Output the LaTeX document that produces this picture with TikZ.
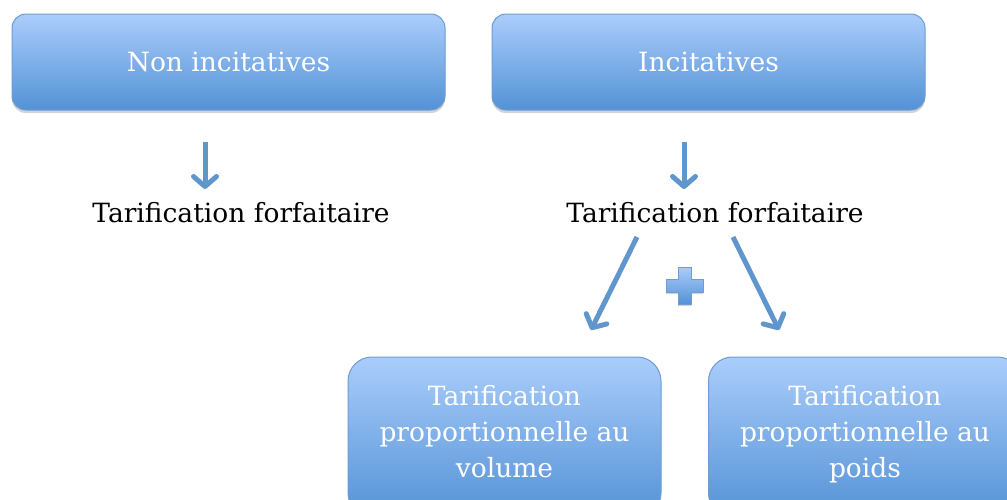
\documentclass[tikz,border=0pt]{standalone}
\usepackage{fontspec}
\setmainfont{DejaVu Serif}
\usetikzlibrary{positioning, arrows.meta, shadows}

\definecolor{boxTop}{HTML}{AACDFB}
\definecolor{boxBot}{HTML}{5492D6}
\definecolor{boxLine}{HTML}{6E9DD3}
\definecolor{flowBlue}{HTML}{6196CC}

\tikzset{
  catbox/.style={draw=boxLine, line width=1pt, rounded corners=14pt,
    top color=boxTop, bottom color=boxBot, text=white,
    minimum width=433pt, minimum height=96pt,
    font=\fontsize{26.5}{30}\selectfont,
    drop shadow={shadow xshift=0pt, shadow yshift=-3pt, opacity=0.35}},
  modebox/.style={catbox, rounded corners=24pt, minimum width=313pt,
    minimum height=160pt, align=center, font=\fontsize{26.5}{36}\selectfont},
  tarif/.style={font=\fontsize{26.5}{30}\selectfont, text=black},
  flow/.style={draw=flowBlue, line width=5pt,
    -{Straight Barb[length=10pt, width=23pt, round]}}
}

\begin{document}
\begin{tikzpicture}[x=1pt, y=-1pt]
    \useasboundingbox (0,0) rectangle (1007,499);
    \clip (0,0) rectangle (1007,499);

    % categories
    \node[catbox] (nonInc) at (228.5,62) {Non incitatives};
    \node[catbox] (inc) at (708.5,62) {Incitatives};

    % tarifs
    \node[tarif] (forfNon) at (241,213) {Tarification forfaitaire};
    \node[tarif] (forfInc) at (715,213) {Tarification forfaitaire};

    % tarification proportionnelle
    \node[modebox] (volume) at (504.5,437) {Tarification\\proportionnelle au\\volume\strut};
    \node[modebox] (poids) at (865,437) {Tarification\\proportionnelle au\\poids\strut};

    \coordinate (a1s) at (205,142);
    \coordinate (a1e) at (205,189);
    \coordinate (a2s) at (684,142);
    \coordinate (a2e) at (684,189);
    \coordinate (d1s) at (637,237);
    \coordinate (d1e) at (591,330);
    \coordinate (d2s) at (733,237);
    \coordinate (d2e) at (779,330);

    \draw[flow] (a1s) -- (a1e);
    \draw[flow] (a2s) -- (a2e);
    \draw[flow] (d1s) -- (d1e);
    \draw[flow] (d2s) -- (d2e);

    % plus
    \path[draw=boxLine, line width=1pt, top color=boxTop, bottom color=boxBot,
      drop shadow={shadow xshift=0pt, shadow yshift=-2pt, opacity=0.35}]
      (678,267) -- (691,267) -- (691,279) -- (703,279) -- (703,292)
      -- (691,292) -- (691,304) -- (678,304) -- (678,292) -- (666,292)
      -- (666,279) -- (678,279) -- cycle;
\end{tikzpicture}
\end{document}
